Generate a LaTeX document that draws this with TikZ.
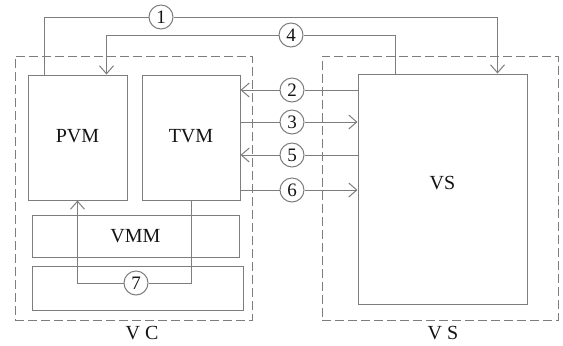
\documentclass[tikz,border=0pt]{standalone}
\usepackage{fontspec}
\setmainfont{Liberation Serif}
\usepackage{tikz}
\usetikzlibrary{arrows.meta, positioning, calc}
\definecolor{mygray}{RGB}{125,125,125}
\definecolor{mydark}{RGB}{20,20,20}
\tikzset{
  box/.style={rectangle, draw=mygray, fill=white, align=center,
    font=\fontsize{10}{12}\selectfont, text=mydark, line width=0.5pt, inner sep=0pt},
  numc/.style={circle, draw=mygray, fill=white, minimum size=12pt, inner sep=0pt,
    font=\fontsize{9.5}{11}\selectfont, text=mydark, line width=0.5pt},
  group/.style={rectangle, draw=mygray, dash pattern=on 4.5pt off 2pt,
    line width=0.5pt, inner sep=0pt},
  grplabel/.style={font=\fontsize{10}{12}\selectfont, text=mydark, inner sep=0pt},
  arrow/.style={-{Straight Barb[length=4pt, width=7pt]}, line width=0.5pt, color=mygray},
  line/.style={line width=0.5pt, color=mygray}
}
\begin{document}
\begin{tikzpicture}[x=0.5pt, y=-0.5pt]
  \useasboundingbox (0,0) rectangle (563,345);
  % groups
  \node[group, minimum width=118.5pt, minimum height=132pt] (vcgrp) at (133.5,188) {};
  \node[group, minimum width=118pt, minimum height=132pt] (vsgrp) at (440,188) {};
  \node[grplabel] (vclbl) at (142,333) {V C};
  \node[grplabel] (vslbl) at (443,333) {V S};

  % modules
  \node[box, minimum width=49.5pt, minimum height=62.5pt, text depth=2pt] (pvm) at (77.5,137.5) {PVM};
  \node[box, minimum width=49pt, minimum height=62.5pt, text depth=2pt, right=7pt of pvm] (tvm) {TVM};
  \node[box, minimum width=103.5pt, minimum height=21pt] (vmm) at (135.5,236) {VMM};
  \node[box, minimum width=105.5pt, minimum height=22pt] (base) at (137.5,288) {};
  \node[box, minimum width=84.5pt, minimum height=115pt, text depth=6pt] (vs) at (442.5,189) {VS};

  % numbered links
  \node[numc] (n1) at (161,17) {1};
  \node[numc] (n4) at (291,35) {4};
  \node[numc] (n2) at (292,90) {2};
  \node[numc] (n3) at (292,122) {3};
  \node[numc] (n5) at (292,155) {5};
  \node[numc] (n6) at (292,190) {6};
  \node[numc] (n7) at (136,283) {7};

  \draw[line] ([xshift=8.5pt]pvm.north west) |- (n1);
  \draw[arrow] (n1) -| ([xshift=70pt]vs.north west);
  \draw[line] ([xshift=19pt]vs.north west) |- (n4);
  \draw[arrow] (n4) -| ([xshift=39.5pt]pvm.north west);

  \draw[arrow] (vs.west |- n2) -- (n2) -- (tvm.east |- n2);
  \draw[arrow] (tvm.east |- n3) -- (n3) -- (vs.west |- n3);
  \draw[arrow] (vs.west |- n5) -- (n5) -- (tvm.east |- n5);
  \draw[arrow] (tvm.east |- n6) -- (n6) -- (vs.west |- n6);

  \draw[line] (tvm.south) |- (n7);
  \draw[arrow] (n7) -| (pvm.south);
\end{tikzpicture}
\end{document}
